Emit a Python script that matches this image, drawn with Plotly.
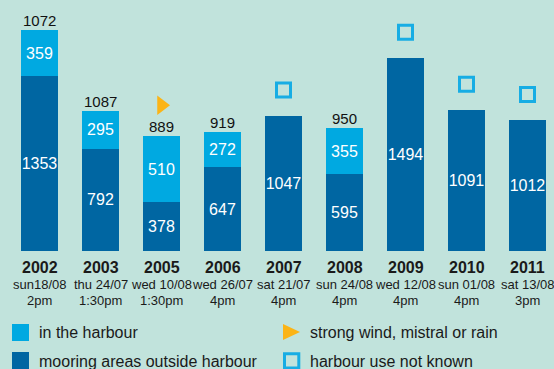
import plotly.graph_objects as go

# --- data -------------------------------------------------------------
years = ['2002', '2003', '2005', '2006', '2007', '2008', '2009', '2010', '2011']
dates = ['sun18/08', 'thu 24/07', 'wed 10/08', 'wed 26/07', 'sat 21/07',
         'sun 24/08', 'wed 12/08', 'sun 01/08', 'sat 13/08']
times = ['2pm', '1:30pm', '1:30pm', '4pm', '4pm', '4pm', '4pm', '4pm', '3pm']
outside = [1353, 792, 378, 647, 1047, 595, 1494, 1091, 1012]
harbour = [359, 295, 510, 272, None, 355, None, None, None]
totals = ['1072', '1087', '889', '919', None, '950', None, None, None]
bad_weather = ['2005']

# --- styling ----------------------------------------------------------
BG = '#c1e3dc'
DARK = '#0066a2'
LIGHT = '#00a9e1'
ORANGE = '#fbb416'
SQUARE = '#17ade4'
FONT = 'Liberation Sans, Arial, Helvetica, sans-serif'

W, H = 554, 369
ML, MB = 9, 118
PLOT_W = W - ML
PLOT_H = H - MB
SLOT = 61.0          # pixels per category
PX_PER_UNIT = 0.1292  # pixels per boat

x = list(range(len(years)))

fig = go.Figure()

fig.add_trace(go.Bar(
    x=x, y=outside, name='mooring areas outside harbour',
    marker=dict(color=DARK, line=dict(width=0)), width=0.6,
    texttemplate='%{y}', textposition='inside', insidetextanchor='middle',
    constraintext='none', textangle=0,
    textfont=dict(family=FONT, size=16, color='white'),
    hoverinfo='skip', showlegend=False,
))
fig.add_trace(go.Bar(
    x=x, y=harbour, name='in the harbour',
    marker=dict(color=LIGHT, line=dict(width=0)), width=0.6,
    texttemplate='%{y}', textposition='inside', insidetextanchor='middle',
    constraintext='none', textangle=0,
    textfont=dict(family=FONT, size=16, color='white'),
    hoverinfo='skip', showlegend=False,
))

tops = [o + (h or 0) for o, h in zip(outside, harbour)]

# weather flag and "harbour use not known" markers above the bars
wx = [i for i, yr in enumerate(years) if yr in bad_weather]
fig.add_trace(go.Scatter(
    x=wx, y=[tops[i] + 240 for i in wx], mode='markers',
    marker=dict(symbol='triangle-right', size=17, color=ORANGE),
    hoverinfo='skip', showlegend=False,
))
ux = [i for i, h in enumerate(harbour) if h is None]
fig.add_trace(go.Scatter(
    x=ux, y=[tops[i] + 200 for i in ux], mode='markers',
    marker=dict(symbol='square-open', size=14, color=SQUARE,
                line=dict(width=3, color=SQUARE)),
    hoverinfo='skip', showlegend=False,
))

annotations = []
for i in x:
    if totals[i]:
        annotations.append(dict(
            x=i, y=tops[i], xref='x', yref='y', text=totals[i],
            showarrow=False, yanchor='bottom', yshift=-1,
            font=dict(family=FONT, size=15, color='#111111')))
    annotations.append(dict(
        x=i, y=0, xref='x', yref='paper', text='<b>' + years[i] + '</b>',
        showarrow=False, yanchor='middle', yshift=-16,
        font=dict(family=FONT, size=16, color='#1a1a1a')))
    annotations.append(dict(
        x=i, y=0, xref='x', yref='paper', text=dates[i],
        showarrow=False, yanchor='middle', yshift=-33,
        font=dict(family=FONT, size=13, color='#1a1a1a')))
    annotations.append(dict(
        x=i, y=0, xref='x', yref='paper', text=times[i],
        showarrow=False, yanchor='middle', yshift=-49,
        font=dict(family=FONT, size=13, color='#1a1a1a')))


def px(xp):
    return (xp - ML) / PLOT_W


def py(yp):
    return (PLOT_H - yp) / PLOT_H


# legend drawn below the axis labels
shapes = [
    dict(type='rect', xref='paper', yref='paper', x0=px(12), x1=px(29),
         y0=py(324), y1=py(341), fillcolor=LIGHT, line=dict(width=0)),
    dict(type='rect', xref='paper', yref='paper', x0=px(12), x1=px(29),
         y0=py(352), y1=py(372), fillcolor=DARK, line=dict(width=0)),
    dict(type='path', xref='paper', yref='paper',
         path=f'M{px(283)},{py(324)} L{px(300)},{py(332)} L{px(283)},{py(340)} Z',
         fillcolor=ORANGE, line=dict(width=0)),
    dict(type='rect', xref='paper', yref='paper', x0=px(284.5), x1=px(298.8),
         y0=py(353.8), y1=py(368), fillcolor='rgba(0,0,0,0)',
         line=dict(width=3, color=SQUARE)),
]
legend_items = [
    (37, 332, 'in the harbour'),
    (37, 361, 'mooring areas outside harbour'),
    (308, 332, 'strong wind, mistral or rain'),
    (308, 361, 'harbour use not known'),
]
for lx, ly, txt in legend_items:
    annotations.append(dict(
        x=px(lx), y=py(ly), xref='paper', yref='paper', text=txt,
        showarrow=False, xanchor='left', yanchor='middle',
        font=dict(family=FONT, size=16, color='#1a1a1a')))

fig.update_layout(
    width=W, height=H,
    margin=dict(l=ML, r=0, t=0, b=MB, pad=0),
    paper_bgcolor=BG, plot_bgcolor=BG,
    barmode='stack',
    xaxis=dict(range=[-0.5, -0.5 + PLOT_W / SLOT], visible=False, fixedrange=True),
    yaxis=dict(range=[0, PLOT_H / PX_PER_UNIT], visible=False, fixedrange=True),
    annotations=annotations,
    shapes=shapes,
    showlegend=False,
)

fig.write_html('out.html', config={'displayModeBar': False})
